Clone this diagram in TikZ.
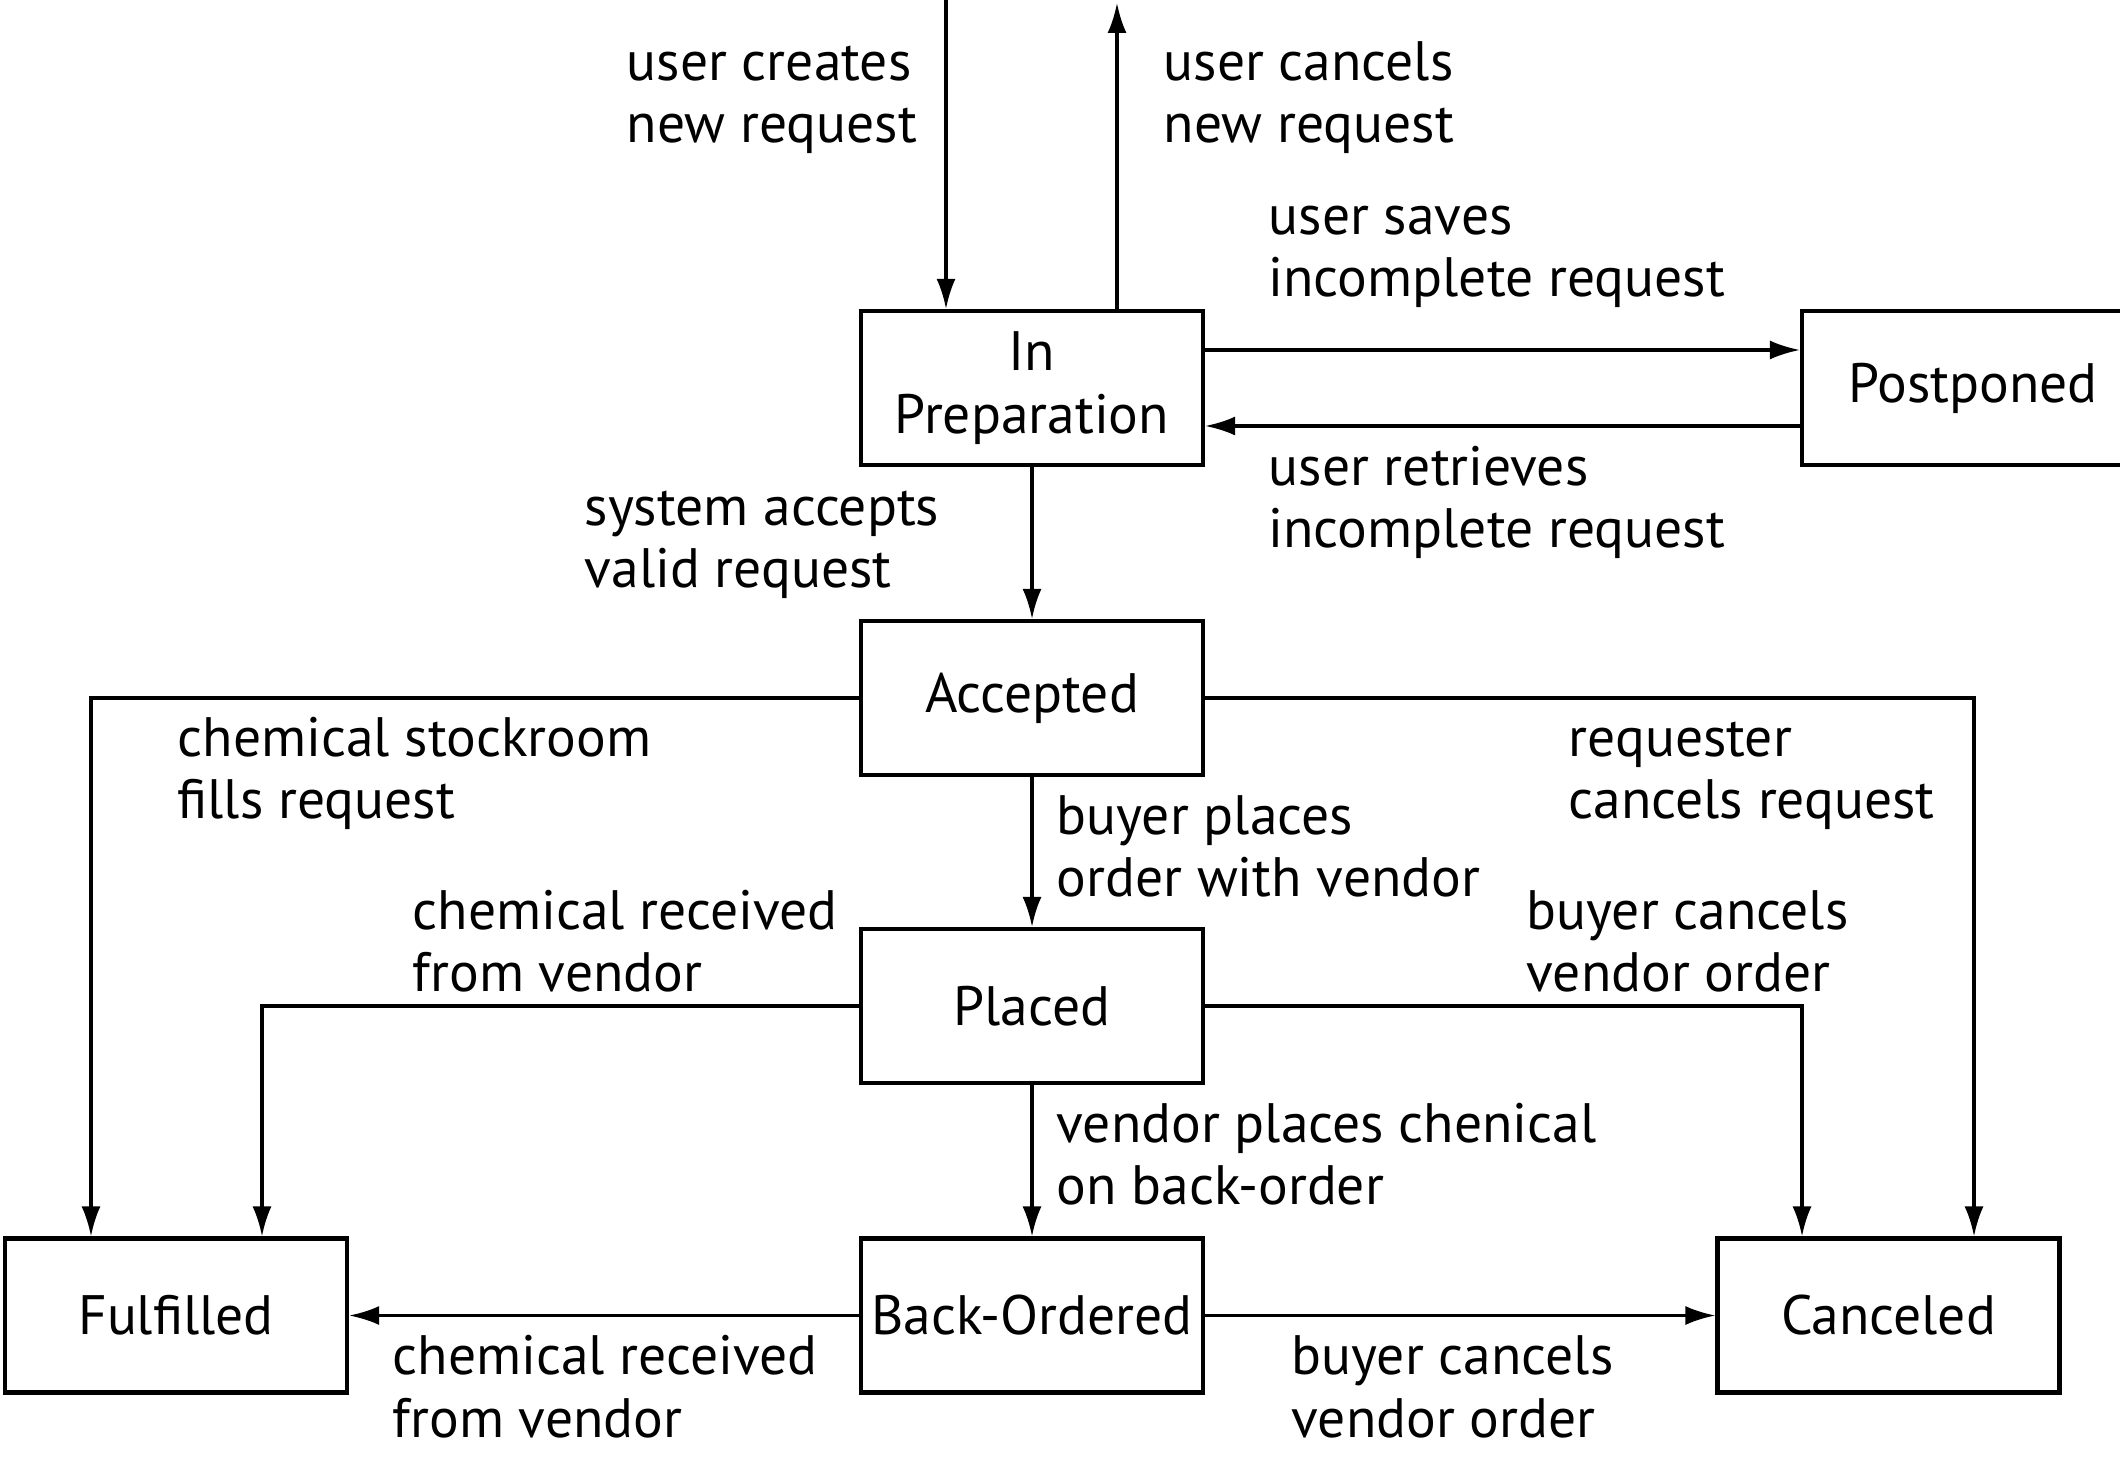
\documentclass[tikz,border=0pt]{standalone}
\usepackage{fontspec}
\setmainfont{PT Sans}
\usetikzlibrary{arrows.meta}
\newcommand{\lbl}[2]{%
  \begin{tabular}{@{}l@{}}
    #1 \\
    #2
  \end{tabular}%
}

\begin{document}
\begin{tikzpicture}[x=1cm,y=1cm]

%
% Styles
%
\tikzstyle{state} = [rectangle,draw,line width=1.2pt,minimum width=3.42cm,minimum height=1.54cm,inner sep=0pt,align=center,font=\fontsize{15.8}{17.8}\selectfont]
\tikzstyle{note} = [anchor=west,inner sep=0pt,font=\fontsize{15.8}{17.8}\selectfont]
\tikzstyle{trans} = [-{Latex[length=3mm,width=1.9mm]},line width=0.9pt]

\useasboundingbox (0,0) rectangle (21.2,14.66);

\node[state] (prep) at (10.32,10.78)  {In\\Preparation};
\node[state] (post) at (19.73,10.78)  {Postponed};
\node[state] (acc)  at (10.32,7.68)   {Accepted};
\node[state] (plc)  at (10.32,4.60)   {Placed};
\node[state] (back) at (10.32,1.505)  {Back-Ordered};
\node[state] (ful)  at (1.76,1.505)   {Fulfilled};
\node[state] (can)  at (18.885,1.505) {Canceled};

\coordinate (start) at (9.46,14.66);
\coordinate (stop)  at (11.17,14.63);

\draw[trans] (start) -- (start |- prep.north);
\draw[trans] (prep.north -| stop) -- (stop);
\draw[trans] ([yshift=0.38cm]prep.east) -- ([yshift=0.38cm]post.west);
\draw[trans] ([yshift=-0.38cm]post.west) -- ([yshift=-0.38cm]prep.east);
\draw[trans] (prep) -- (acc);
\draw[trans] (acc) -- (plc);
\draw[trans] (plc) -- (back);
\draw[trans] (acc.west) -| ([xshift=-0.85cm]ful.north);
\draw[trans] (acc.east) -| ([xshift=0.855cm]can.north);
\draw[trans] (plc.west) -| ([xshift=0.86cm]ful.north);
\draw[trans] (plc.east) -| ([xshift=-0.865cm]can.north);
\draw[trans] (back) -- (ful);
\draw[trans] (back) -- (can);

\node[note] (l1)  at (6.26,13.67)  {\lbl{user creates}{new request}};
\node[note] (l2)  at (11.63,13.67) {\lbl{user cancels}{new request}};
\node[note] (l3)  at (12.68,12.13) {\lbl{user saves}{incomplete request}};
\node[note] (l4)  at (12.68,9.62)  {\lbl{user retrieves}{incomplete request}};
\node[note] (l5)  at (5.84,9.22)   {\lbl{system accepts}{valid request}};
\node[note] (l6)  at (1.77,6.91)   {\lbl{chemical stockroom}{fills request}};
\node[note] (l7)  at (10.56,6.13)  {\lbl{buyer places}{order with vendor}};
\node[note] (l8)  at (15.68,6.91)  {\lbl{requester}{cancels request}};
\node[note] (l9)  at (4.12,5.18)   {\lbl{chemical received}{from vendor}};
\node[note] (l10) at (15.26,5.18)  {\lbl{buyer cancels}{vendor order}};
\node[note] (l11) at (10.56,3.05)  {\lbl{vendor places chenical}{on back-order}};
\node[note] (l12) at (3.92,0.725)  {\lbl{chemical received}{from vendor}};
\node[note] (l13) at (12.91,0.725) {\lbl{buyer cancels}{vendor order}};

\end{tikzpicture}
\end{document}
